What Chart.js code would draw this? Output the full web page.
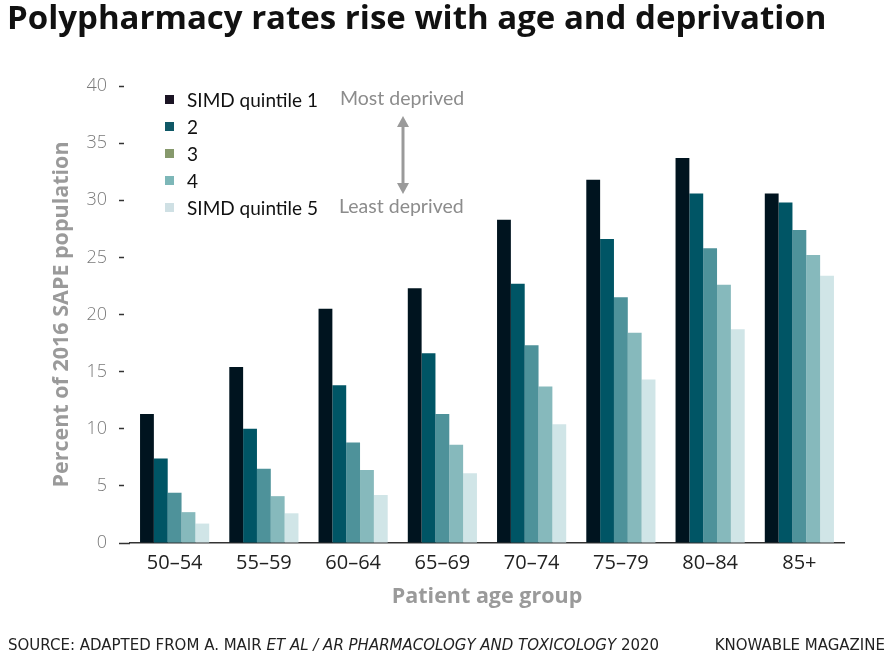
<!DOCTYPE html>
<html>
<head>
<meta charset="utf-8">
<script src="https://cdn.jsdelivr.net/npm/chart.js@4.4.1/dist/chart.umd.min.js"></script>
<style>
  body { margin: 0; background: #fff; font-family: Lato, "Open Sans", sans-serif; }
  #wrap { position: relative; width: 890px; height: 657px; overflow: hidden; }
  #chart { position: absolute; left: 0; top: 0; }
  #title { position: absolute; left: 7px; top: -6px; font-family: "Open Sans"; font-size: 33px; font-weight: bold; color: #111; white-space: nowrap; }
  #legend { position: absolute; left: 165px; top: 86px; }
  .row { position: relative; height: 27.1px; font-size: 19px; color: #111; line-height: 27px; }
  .row span.sq { position: absolute; left: 0; top: 9px; width: 9px; height: 9px; }
  .row span.lb { position: absolute; left: 22px; top: 0; white-space: nowrap; }
  .note { position: absolute; font-size: 19.5px; color: #8c8c8c; white-space: nowrap; }
  #arrow { position: absolute; left: 393px; top: 114px; }
  #source { position: absolute; left: 8px; top: 636px; font-family: "DejaVu Sans"; font-size: 15px; color: #222; white-space: nowrap; }
  #brand { position: absolute; right: 5px; top: 636px; font-family: "DejaVu Sans"; font-size: 15px; color: #222; white-space: nowrap; }
</style>
</head>
<body>
<div id="wrap">
  <canvas id="chart" width="890" height="657"></canvas>
  <div id="title">Polypharmacy rates rise with age and deprivation</div>
  <div id="legend"></div>
  <div class="note" style="left:340px; top:86px;">Most deprived</div>
  <div class="note" style="left:339px; top:194px;">Least deprived</div>
  <svg id="arrow" width="20" height="82">
    <line x1="10" y1="6" x2="10" y2="76" stroke="#9a9a9a" stroke-width="3"/>
    <polygon points="10,2 4,13 16,13" fill="#9a9a9a"/>
    <polygon points="10,80 4,69 16,69" fill="#9a9a9a"/>
  </svg>
  <div id="source">SOURCE: ADAPTED FROM A. MAIR <i>ET AL / AR PHARMACOLOGY AND TOXICOLOGY</i> 2020</div>
  <div id="brand">KNOWABLE MAGAZINE</div>
</div>
<script>
// --- data ---
const ageGroups = ["50–54", "55–59", "60–64", "65–69", "70–74", "75–79", "80–84", "85+"];
const quintileNames = ["SIMD quintile 1", "2", "3", "4", "SIMD quintile 5"];
const q1 = [11.3, 15.4, 20.5, 22.3, 28.3, 31.8, 33.7, 30.6];
const q2 = [7.4, 10.0, 13.8, 16.6, 22.7, 26.6, 30.6, 29.8];
const q3 = [4.4, 6.5, 8.8, 11.3, 17.3, 21.5, 25.8, 27.4];
const q4 = [2.7, 4.1, 6.4, 8.6, 13.7, 18.4, 22.6, 25.2];
const q5 = [1.7, 2.6, 4.2, 6.1, 10.4, 14.3, 18.7, 23.4];
const yTicks = [0, 5, 10, 15, 20, 25, 30, 35, 40];

const barColors = ["#00141f", "#005565", "#4e929a", "#86b9bc", "#d0e5e7"];
const legendColors = ["#1b1424", "#0f5866", "#86996c", "#7db7b8", "#cfe0e4"];

// --- legend (html) ---
const legend = document.getElementById("legend");
quintileNames.forEach((name, i) => {
  const row = document.createElement("div");
  row.className = "row";
  row.innerHTML = `<span class="sq" style="background:${legendColors[i]}"></span><span class="lb">${name}</span>`;
  legend.appendChild(row);
});

const series = [q1, q2, q3, q4, q5];

new Chart(document.getElementById("chart"), {
  type: "bar",
  data: {
    labels: ageGroups,
    datasets: series.map((values, i) => ({
      label: quintileNames[i],
      data: values,
      backgroundColor: barColors[i],
      borderWidth: 0,
      categoryPercentage: 0.775,
      barPercentage: 1
    }))
  },
  options: {
    responsive: false,
    animation: false,
    layout: { padding: { top: 86, left: 40, right: 46, bottom: 44 } },
    plugins: {
      legend: { display: false },
      tooltip: { enabled: false }
    },
    scales: {
      x: {
        grid: { display: false },
        border: { display: true, color: "#333", width: 1.5 },
        ticks: { color: "#222", font: { family: "Open Sans", size: 20 }, padding: 0 },
        title: {
          display: true,
          text: "Patient age group",
          color: "#9a9a9a",
          font: { family: "Open Sans", size: 21.5, weight: "bold" },
          padding: { top: 3, bottom: 3 }
        },
        afterFit: (scale) => { scale.height = 70; }
      },
      y: {
        min: 0,
        max: 40,
        afterBuildTicks: (scale) => { scale.ticks = yTicks.map(v => ({ value: v })); },
        grid: {
          drawOnChartArea: false,
          drawTicks: true,
          tickLength: 11,
          tickColor: "#333",
          tickWidth: 1.5,
          tickBorderDash: (ctx) => ctx.tick && ctx.tick.value === 0 ? [] : [5, 20]
        },
        border: { display: false },
        ticks: { color: "#7a7a7a", font: { family: "Open Sans", size: 18, weight: 300 }, padding: 12 },
        title: {
          display: true,
          text: "Percent of 2016 SAPE population",
          color: "#9a9a9a",
          font: { family: "Open Sans", size: 21.5, weight: "bold" },
          padding: { top: 9, bottom: 9 }
        },
        afterFit: (scale) => { scale.width = 90; }
      }
    }
  }
});
</script>
</body>
</html>
